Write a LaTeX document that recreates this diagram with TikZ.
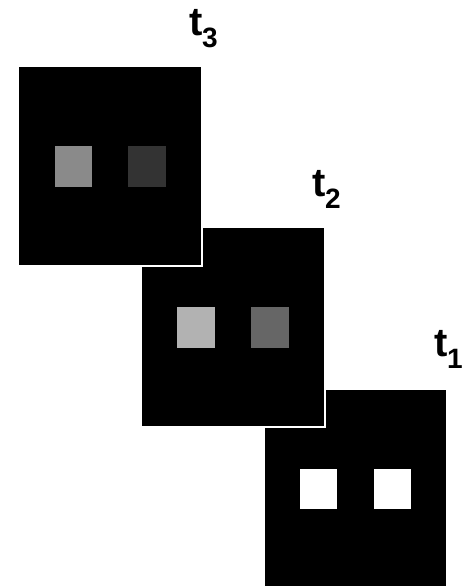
\documentclass[tikz,border=0pt]{standalone}
\usepackage{fontspec}
\setmainfont{Liberation Sans}
\begin{document}
\begin{tikzpicture}[x=1pt,y=-1pt,
  frame/.style={fill=black,draw=white,line width=2pt,outer sep=0pt},
  tlabel/.style={inner sep=0pt,anchor=base west,font=\bfseries}]
\useasboundingbox (0,0) rectangle (470,586);
% t1 (back)
\fill[white] (263,388) rectangle (448,590);
\fill[black] (265,390) rectangle (446,588);
\fill[white] (300,469) rectangle (337,509);
\fill[white] (374,469) rectangle (411,509);
% t2
\fill[white] (140,226) rectangle (326,428);
\fill[black] (142,228) rectangle (324,426);
\fill[black!30] (177,307) rectangle (215,348);
\fill[black!60] (251,307) rectangle (289,348);
% t3 (front)
\fill[white] (17,65) rectangle (203,267);
\fill[black] (19,67) rectangle (201,265);
\fill[black!46] (55,146) rectangle (92,187);
\fill[black!80] (128,146) rectangle (166,187);
% labels
\node[tlabel] (l3) at (189.5,36) {\fontsize{40}{40}\selectfont t\kern-1pt\raisebox{-12pt}{\fontsize{28}{28}\selectfont 3}};
\node[tlabel] (l2) at (312.5,196) {\fontsize{40}{40}\selectfont t\kern-1pt\raisebox{-12pt}{\fontsize{28}{28}\selectfont 2}};
\node[tlabel] (l1) at (434.5,356) {\fontsize{40}{40}\selectfont t\kern-1pt\raisebox{-12pt}{\fontsize{28}{28}\selectfont 1}};
\end{tikzpicture}
\end{document}
